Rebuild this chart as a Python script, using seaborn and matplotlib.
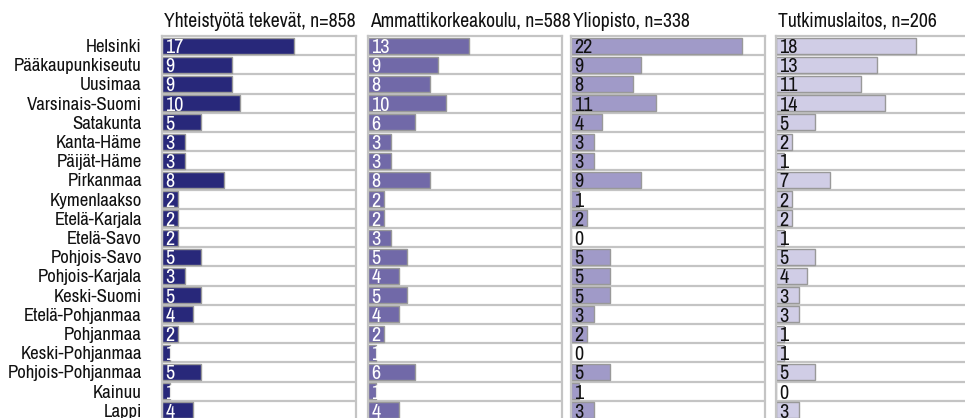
import matplotlib
matplotlib.use("Agg")
import matplotlib.pyplot as plt
import matplotlib.font_manager as fm
import seaborn as sns
import pandas as pd

categories = ["Helsinki", "Pääkaupunkiseutu", "Uusimaa", "Varsinais-Suomi", "Satakunta",
              "Kanta-Häme", "Päijät-Häme", "Pirkanmaa", "Kymenlaakso", "Etelä-Karjala",
              "Etelä-Savo", "Pohjois-Savo", "Pohjois-Karjala", "Keski-Suomi", "Etelä-Pohjanmaa",
              "Pohjanmaa", "Keski-Pohjanmaa", "Pohjois-Pohjanmaa", "Kainuu", "Lappi"]

titles = ["Yhteistyötä tekevät, n=858", "Ammattikorkeakoulu, n=588",
          "Yliopisto, n=338", "Tutkimuslaitos, n=206"]

yhteistyo = [17, 9, 9, 10, 5, 3, 3, 8, 2, 2, 2, 5, 3, 5, 4, 2, 1, 5, 1, 4]
amk = [13, 9, 8, 10, 6, 3, 3, 8, 2, 2, 3, 5, 4, 5, 4, 2, 1, 6, 1, 4]
yliopisto = [22, 9, 8, 11, 4, 3, 3, 9, 1, 2, 0, 5, 5, 5, 3, 2, 0, 5, 1, 3]
tutkimus = [18, 13, 11, 14, 5, 2, 1, 7, 2, 2, 1, 5, 4, 3, 3, 1, 1, 5, 0, 3]

series = [yhteistyo, amk, yliopisto, tutkimus]
colors = ["#28287a", "#7169a8", "#a09ac8", "#d0cde6"]
text_colors = ["white", "white", "#111111", "#111111"]

sns.set_theme(style="white")


def _num(v, table, default):
    if isinstance(v, str):
        return table.get(v, default)
    return v


def pick_font():
    preferred = ["Archivo Narrow", "Liberation Sans Narrow", "Roboto Condensed"]
    best = None
    for f in fm.fontManager.ttflist:
        w = _num(f.weight, fm.weight_dict, 400)
        s = _num(f.stretch, fm.stretch_dict, 500)
        if f.style != "normal" or not (350 <= w <= 450):
            continue
        low = f.name.lower()
        score = None
        if f.name in preferred:
            score = preferred.index(f.name) * 0.1
        elif "narrow" in low or "condensed" in low:
            score = 1 if "extra" not in low else 3
        elif 200 <= s <= 300:
            score = 1.5
        elif s <= 400:
            score = 2
        elif low == "roboto":
            score = 5
        if score is not None and (best is None or score < best[0]):
            best = (score, f.fname)
    if best is None:
        return lambda size: fm.FontProperties(family="DejaVu Sans", size=size)
    return lambda size: fm.FontProperties(fname=best[1], size=size)


make_fp = pick_font()
fp_label = make_fp(13.5)
fp_title = make_fp(14.2)
fp_value = make_fp(14.5)

W, H = 965, 418
fig = plt.figure(figsize=(W / 100, H / 100), dpi=100)

lefts = [162, 368, 571, 776]
pw = 194
top_px = 36
row_h = 19.2
bottom_px = top_px + row_h * len(categories)
grid = "#c4c4c4"

for i, (vals, title) in enumerate(zip(series, titles)):
    ax = fig.add_axes([lefts[i] / W, 1 - bottom_px / H, pw / W, (bottom_px - top_px) / H])
    df = pd.DataFrame({"Alue": categories, "Osuus": vals})
    sns.barplot(data=df, x="Osuus", y="Alue", orient="h", ax=ax, color=colors[i],
                saturation=1, edgecolor="#999999", linewidth=1.0, width=0.84)
    ax.set_xlim(0, 25)
    ax.set_ylim(len(categories) - 0.5, -0.5)
    for k in range(len(categories) - 1):
        ax.axhline(k + 0.5, color=grid, lw=1.6, zorder=0.5)
    for s in ax.spines.values():
        s.set_color(grid)
        s.set_linewidth(1.6)
    ax.set_xticks([])
    ax.set_xlabel("")
    ax.set_ylabel("")
    if i == 0:
        ax.tick_params(axis="y", length=0, pad=14.5)
        for lab in ax.get_yticklabels():
            lab.set_fontproperties(fp_label)
            lab.set_color("#111111")
    else:
        ax.set_yticklabels([])
        ax.tick_params(axis="y", length=0)
    for k, v in enumerate(vals):
        ax.text(0.45, k + 0.1, str(v), ha="left", va="center", fontproperties=fp_value,
                color=(text_colors[i] if v > 0 else "#111111"))
    ax.text(0.01, 1.0 + 5 / (bottom_px - top_px), title, transform=ax.transAxes,
            ha="left", va="bottom", fontproperties=fp_title, color="#111111")

fig.savefig("out.png", dpi=100)
